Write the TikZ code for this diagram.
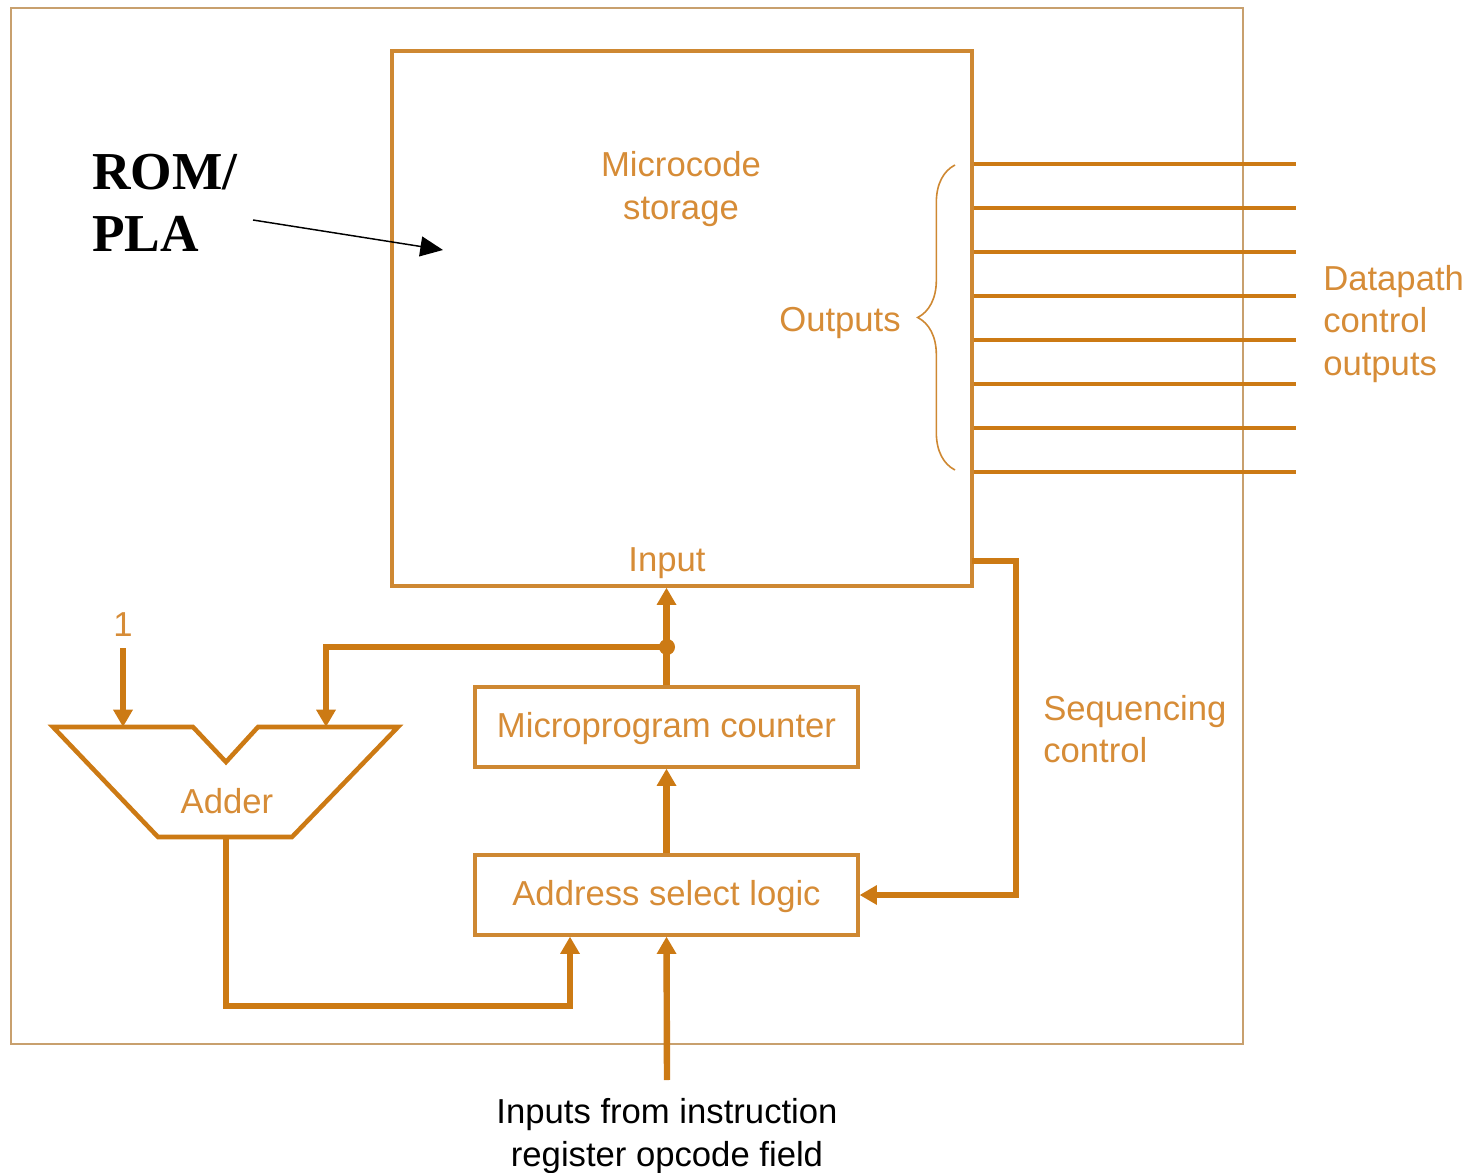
\documentclass[tikz,border=0pt]{standalone}
\usepackage{fontspec}
\setmainfont{Liberation Sans}
\newfontfamily\romfont{Liberation Serif}
\usetikzlibrary{arrows.meta,decorations.pathreplacing}
\definecolor{busorange}{RGB}{204,122,20}
\definecolor{boxorange}{RGB}{206,136,50}
\definecolor{textorange}{RGB}{214,140,55}
\definecolor{frametan}{RGB}{200,160,110}
\tikzset{
	bus/.style={draw=busorange, line width=4.8pt},
	busarrow/.style={bus, -{Triangle[length=13pt,width=14pt]}},
	outline/.style={draw=busorange, line width=3pt},
	block/.style={draw=boxorange, line width=2.4pt, text=textorange, font=\fontsize{26}{32}\selectfont, inner sep=0pt},
	label/.style={text=textorange, font=\fontsize{26}{32}\selectfont, inner sep=0pt, align=center},
}
\begin{document}
\begin{tikzpicture}[x=0.75pt,y=0.75pt,yscale=-1,xscale=1]
	\useasboundingbox (0,0) rectangle (1475,1173);
	\draw [draw=frametan, line width=1.5pt] (11,8) rectangle (1243,1044);
	\node [block, minimum width=435pt, minimum height=401.25pt] (rom) at (682,318.5) {};
	\node [block, minimum width=287.25pt, minimum height=60pt, text depth=3pt] (mpc) at (666.5,727) {Microprogram counter};
	\node [block, minimum width=287.25pt, minimum height=60pt, text depth=3pt] (asl) at (666.5,895) {Address select logic};
	\draw [draw=busorange, line width=3.4pt, line join=miter] (53,727) -- (193,727) -- (226,762) -- (258,727) -- (398,727) -- (292,837) -- (158,837) -- cycle;
	\node [label] (mcs) at (681,189) {Microcode\\storage};
	\node [label] (outs) at (840,323) {Outputs};
	\node [label, align=left, anchor=west] (dco) at (1323,324) {Datapath\\control\\outputs};
	\node [label] (inp) at (667,563) {Input};
	\node [label, align=left, anchor=west] (seq) at (1043,729) {Sequencing\\control};
	\node [label] (one) at (123,625) {1};
	\node [label] (addlbl) at (227,801) {Adder};
	\node [label, text=black] (irtext) at (667,1136) {Inputs from instruction\\register opcode field};
	\node [font=\romfont\bfseries\fontsize{40}{47}\selectfont, align=left, anchor=west, inner sep=0pt] (rompla) at (92,203) {ROM/\\PLA};
	\draw [draw=boxorange, line width=1.2pt, decorate, decoration={brace, amplitude=28pt}] (955,470) -- (955,165);
	\foreach \y in {164,208,...,472}
		\draw [outline] (rom.east |- 0,\y) -- (1296,\y);
	\coordinate (split) at (667,647);
	\coordinate (oneend) at (123,648);
	\coordinate (addA) at (123,727);
	\coordinate (addB) at (326,727);
	\coordinate (addout) at (226,837);
	\coordinate (aslin) at (570,1006);
	\coordinate (seqout) at (972,561);
	\coordinate (seqturn) at (1016,561);
	\coordinate (irin) at (667,1080);
	\coordinate (ptrfrom) at (253,220);
	\coordinate (ptrto) at (443,250);
	\draw [busarrow] (mpc.north) -- (mpc.north |- rom.south);
	\draw [busarrow] (split) -| (addB);
	\fill [busorange] (split) circle (6pt);
	\draw [busarrow] (oneend) -- (addA);
	\draw [busarrow] (asl.north) -- (mpc.south);
	\draw [busarrow] (seqout) -- (seqturn) |- (asl.east);
	\draw [busarrow] (addout) |- (aslin) -- (aslin |- asl.south);
	\draw [busarrow] (irin) -- (asl.south);
	\draw [-{Triangle[length=17pt,width=15pt]}, line width=1.1pt] (ptrfrom) -- (ptrto);
\end{tikzpicture}
\end{document}
